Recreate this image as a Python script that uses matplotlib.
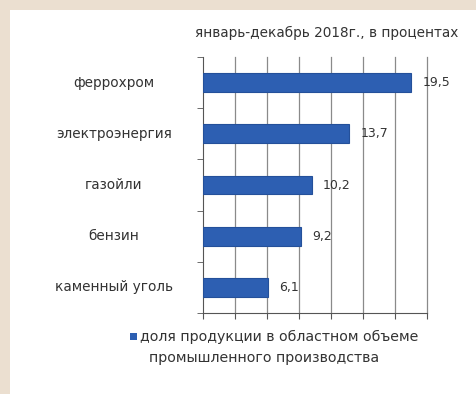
import numpy as np
import matplotlib.pyplot as plt
import matplotlib.transforms as mtransforms
from matplotlib.patches import Rectangle

categories = ['феррохром', 'электроэнергия', 'газойли', 'бензин', 'каменный уголь']
values = [19.5, 13.7, 10.2, 9.2, 6.1]
value_labels = ['19,5', '13,7', '10,2', '9,2', '6,1']
title = 'январь-декабрь 2018г., в процентах'
legend_lines = ['доля продукции в областном объеме', 'промышленного производства']

plt.rcParams['font.family'] = ['DejaVu Sans']
txt = '#333333'
blue = '#2d5fb2'

fig = plt.figure(figsize=(4.77, 3.94), dpi=100)
fig.patch.set_facecolor('#ebdfd0')

# white panel behind everything, pixel coords
bg = fig.add_axes([0, 0, 1, 1], zorder=-1)
bg.axis('off')
bg.set_xlim(0, 477)
bg.set_ylim(394, 0)
bg.add_patch(Rectangle((10, 10), 470, 390, facecolor='white', edgecolor='none'))

ax = fig.add_axes([203 / 477, 81 / 394, 224 / 477, 256 / 394])
ax.set_facecolor('white')

y = np.arange(len(categories))[::-1]
ax.barh(y, values, height=0.37, color=blue, edgecolor='#24509a', linewidth=0.8, zorder=3)

for yi, v, lab in zip(y, values, value_labels):
    ax.text(v + 1.05, yi, lab, va='center', ha='left', fontsize=9, color=txt)

ax.set_xlim(0, 21)
ax.set_ylim(-0.5, len(categories) - 0.5)
ax.set_xticks(np.arange(0, 22, 3))
ax.set_xticklabels([])
for gx in np.arange(3, 22, 3):
    ax.axvline(gx, color='#8a8a8a', linewidth=0.9, zorder=0, clip_on=False)
ax.tick_params(axis='x', direction='out', length=4, color='#555555')

# category labels centred in the left margin
ax.set_yticks([])
ax.set_yticks(np.arange(-0.5, len(categories), 1), minor=True)
ax.tick_params(axis='y', which='minor', direction='out', length=4, color='#555555')
trans = mtransforms.blended_transform_factory(bg.transData, ax.transData)
for yi, c in zip(y, categories):
    fig.text(114, yi, c, fontsize=9.8, color=txt, ha='center', va='center', transform=trans)

for s in ['top', 'right']:
    ax.spines[s].set_visible(False)
ax.spines['left'].set_color('#555555')
ax.spines['bottom'].set_color('#555555')

bg.text(327, 33, title, ha='center', va='center', fontsize=9.8, color=txt)

bg.add_patch(Rectangle((130, 333), 7, 7, facecolor=blue, edgecolor='none'))
bg.text(140, 337, legend_lines[0], ha='left', va='center', fontsize=10.2, color=txt)
bg.text(149, 358, legend_lines[1], ha='left', va='center', fontsize=10.2, color=txt)

fig.savefig('out.png', dpi=100)
